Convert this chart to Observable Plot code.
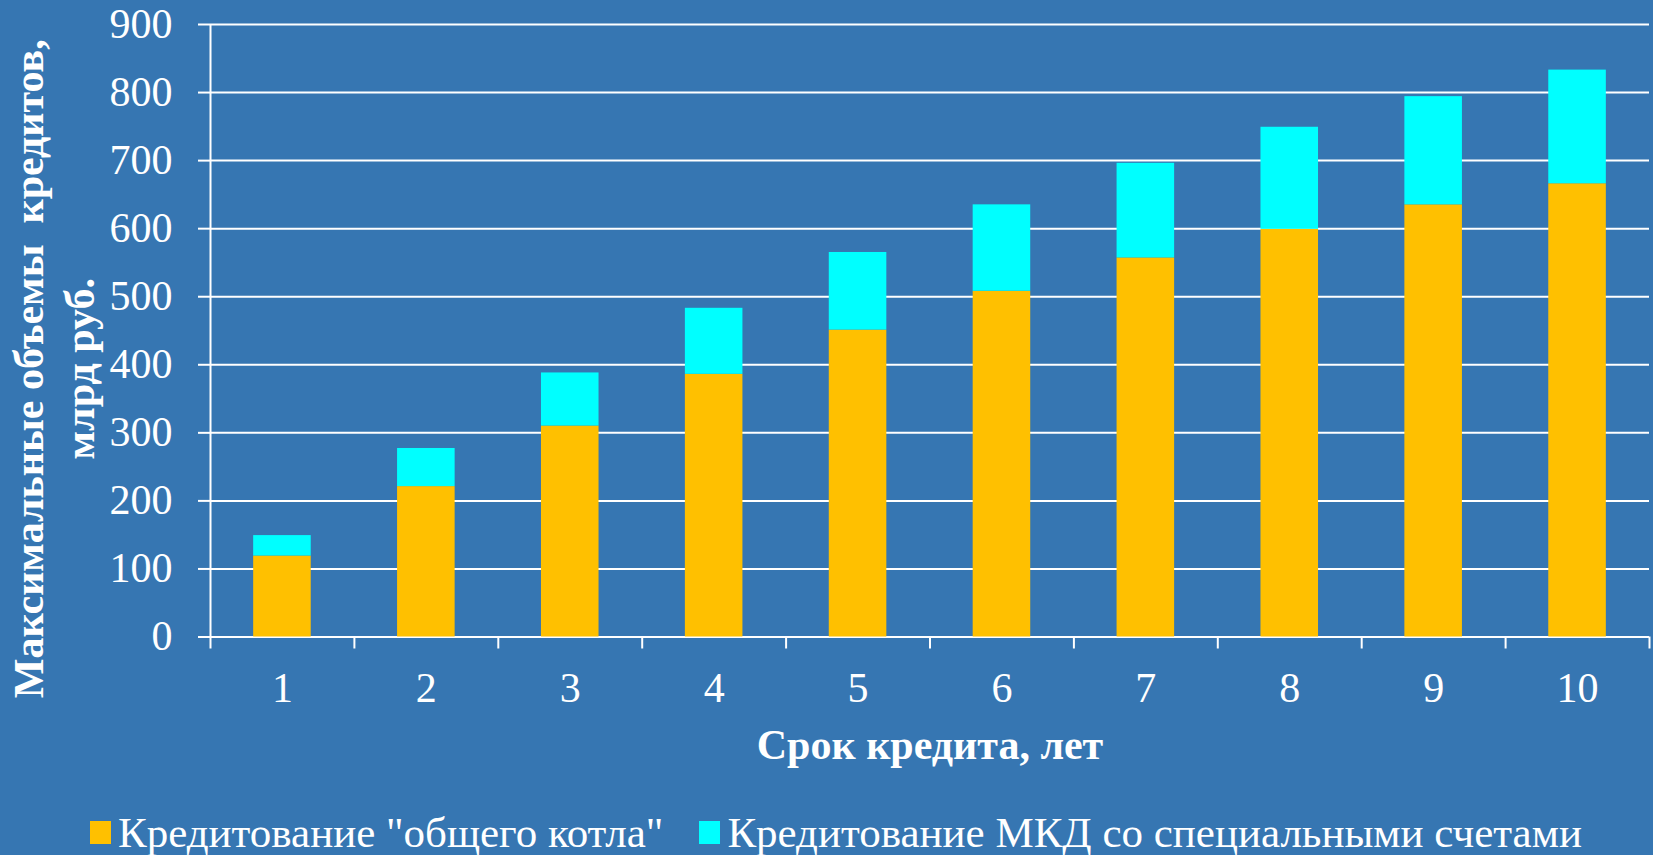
<!DOCTYPE html>
<html>
<head>
<meta charset="utf-8">
<script src="https://cdn.jsdelivr.net/npm/d3@7"></script>
<script src="https://cdn.jsdelivr.net/npm/@observablehq/plot@0.6"></script>
<style>
  html, body { margin: 0; padding: 0; background: #3676B2; width: 1653px; height: 855px; overflow: hidden; }
  #chart { position: absolute; left: 0; top: 0; }
  #legend { position: absolute; left: 90px; top: 811px; height: 42px; display: flex; align-items: center;
    font-family: 'Liberation Serif', 'Times New Roman', serif; font-size: 43px; color: white; white-space: nowrap; }
  .sw { width: 21px; height: 23px; display: inline-block; margin-right: 7px; }
  .item { display: flex; align-items: center; margin-right: 36px; }
</style>
</head>
<body>
<div id="chart"></div>
<div id="legend"></div>
<script>
// Data
const years = [1, 2, 3, 4, 5, 6, 7, 8, 9, 10];
const generalPot = [119, 221, 310, 386, 451, 508, 557, 599, 635, 666];
const specialAccounts = [30, 56, 78, 97, 114, 127, 139, 150, 159, 167];
const yTicks = [0, 100, 200, 300, 400, 500, 600, 700, 800, 900];
const seriesNames = ["Кредитование \"общего котла\"", "Кредитование МКД со специальными счетами"];
const seriesColors = ["#FFC000", "#00FFFF"];
const xTitle = "Срок кредита, лет";
const yTitle = "Максимальные объемы\u00A0 кредитов,\nмлрд руб.";

const rows = [];
years.forEach((yr, i) => {
  rows.push({year: yr, series: seriesNames[0], y1: 0, y2: generalPot[i]});
  rows.push({year: yr, series: seriesNames[1], y1: generalPot[i], y2: generalPot[i] + specialAccounts[i]});
});
const boundaries = [0, ...years].map(d => d + 0.5);
const font = "'Liberation Serif', 'Times New Roman', serif";

const chart = Plot.plot({
  width: 1653,
  height: 790,
  marginTop: 24,
  marginBottom: 153.5,
  marginLeft: 210,
  marginRight: 4,
  style: {background: "#3676B2", color: "white", fontFamily: font, fontSize: "42px"},
  x: {domain: [0.5, 10.5], axis: null},
  y: {domain: [0, 900], axis: null},
  color: {domain: seriesNames, range: seriesColors},
  marks: [
    Plot.gridY(yTicks, {stroke: "white", strokeOpacity: 1, strokeWidth: 2}),
    Plot.rectY(rows, {x1: d => d.year - 0.2, x2: d => d.year + 0.2, y1: "y1", y2: "y2", fill: "series"}),
    Plot.axisY({ticks: yTicks, tickSize: 12, tickPadding: 26, stroke: "white", strokeWidth: 2, fontSize: 42, fill: "white"}),
    Plot.ruleX([0.5], {stroke: "white", strokeWidth: 2}),
    Plot.axisX({ticks: boundaries, tickSize: 12, tickFormat: () => "", stroke: "white", strokeWidth: 2}),
    Plot.axisX({ticks: years, tickSize: 0, tickPadding: 35, tickFormat: d => String(d), fontSize: 42, fill: "white"}),
    Plot.text([xTitle], {frameAnchor: "bottom", dy: 122, fontWeight: "bold", fontSize: 42, fill: "white"}),
    Plot.text([yTitle], {frameAnchor: "left", textAnchor: "middle", rotate: -90, dx: -158, dy: 38,
      fontWeight: "bold", fontSize: 42, lineHeight: 1.2, fill: "white"})
  ]
});
document.getElementById("chart").appendChild(chart);

const legend = document.getElementById("legend");
seriesNames.forEach((name, i) => {
  const item = document.createElement("div");
  item.className = "item";
  const sw = document.createElement("span");
  sw.className = "sw";
  sw.style.background = seriesColors[i];
  const t = document.createElement("span");
  t.textContent = name;
  item.appendChild(sw);
  item.appendChild(t);
  legend.appendChild(item);
});
</script>
</body>
</html>
